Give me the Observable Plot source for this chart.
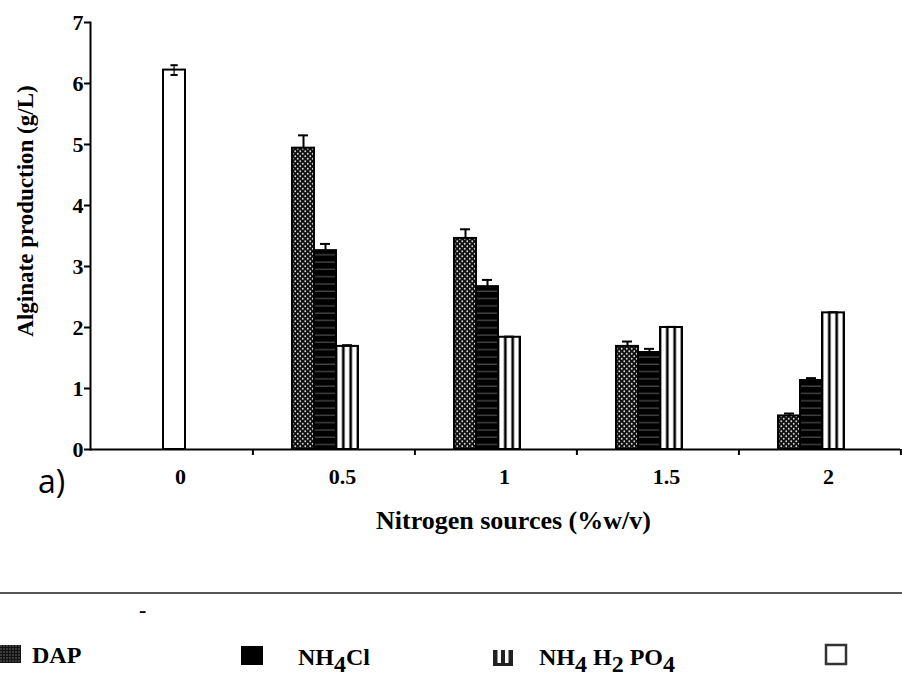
<!DOCTYPE html>
<html><head><meta charset="utf-8">
<script src="https://cdn.jsdelivr.net/npm/d3@7"></script>
<script src="https://cdn.jsdelivr.net/npm/@observablehq/plot@0.6"></script>
<style>
body{margin:0;background:#fff;}
#wrap{position:relative;width:902px;height:700px;background:#fff;}
#wrap > svg{position:absolute;left:0;top:0;}
</style></head><body><div id="wrap"></div>
<script>
// ---- data ----
const concentrations = ["0", "0.5", "1", "1.5", "2"];
const series = ["DAP", "NH4Cl", "NH4H2PO4"];
const seriesConc = ["0.5", "1", "1.5", "2"];
const dapValues = [4.94, 3.46, 1.69, 0.55];
const dapErrors = [0.21, 0.15, 0.08, 0.04];
const nh4clValues = [3.26, 2.67, 1.59, 1.13];
const nh4clErrors = [0.11, 0.11, 0.06, 0.04];
const nh4h2po4Values = [1.69, 1.84, 2.00, 2.24];
const nh4h2po4Errors = [0.02, 0.01, 0.01, 0.01];
const controlConc = ["0"];
const controlValues = [6.22];
const controlErrors = [0.08];
const yTicks = [0, 1, 2, 3, 4, 5, 6, 7];
const yTitle = "Alginate production (g/L)";
const xTitle = "Nitrogen sources (%w/v)";
const panelLabel = "a)";

const valueSets = [dapValues, nh4clValues, nh4h2po4Values];
const errorSets = [dapErrors, nh4clErrors, nh4h2po4Errors];
const rows = seriesConc.flatMap((c, i) => series.map((s, j) => ({conc: c, series: s, value: valueSets[j][i], err: errorSets[j][i]})));
const control = controlConc.map((c, i) => ({conc: c, value: controlValues[i], err: controlErrors[i]}));

const serif = "'Liberation Serif','Times New Roman',serif";

const svg = Plot.plot({
  width: 902, height: 560,
  marginLeft: 88, marginRight: 0, marginTop: 22, marginBottom: 111,
  style: {fontFamily: serif, background: "white", color: "black", overflow: "visible"},
  fx: {domain: concentrations, padding: 0},
  x: {domain: series, paddingInner: 0, paddingOuter: 2.039, align: 0.413, axis: null},
  y: {domain: [0, 7]},
  color: {domain: series, range: ["url(#pat-dap)", "url(#pat-nh4cl)", "url(#pat-po4)"]},
  marks: [
    Plot.ruleY([0], {strokeWidth: 2}),
    Plot.barY(rows, {fx: "conc", x: "series", y: "value", fill: "series", stroke: "black", strokeWidth: 2}),
    Plot.ruleX(rows, {fx: "conc", x: "series", y1: "value", y2: d => d.value + d.err, strokeWidth: 2}),
    Plot.tickY(rows, {fx: "conc", x: "series", y: d => d.value + d.err, insetLeft: 6, insetRight: 6, strokeWidth: 2}),
    Plot.barY(control, {fx: "conc", y: "value", fill: "white", stroke: "black", strokeWidth: 2, insetLeft: 73, insetRight: 67}),
    Plot.barY(control, {fx: "conc", y1: d => d.value - d.err, y2: d => d.value + d.err, fill: "black", insetLeft: 83.5, insetRight: 77.3}),
    Plot.tickY(control, {fx: "conc", y: d => d.value + d.err, insetLeft: 80.5, insetRight: 74.3, strokeWidth: 2}),
    Plot.tickY(control, {fx: "conc", y: d => d.value - d.err, insetLeft: 80.5, insetRight: 74.3, strokeWidth: 2}),
    Plot.frame({anchor: "left", facetAnchor: "left", strokeWidth: 2}),
    Plot.axisY({ticks: yTicks, tickFormat: d => String(d), tickSize: 6, tickPadding: 1, fontSize: 22, fontWeight: "bold", strokeWidth: 2, label: null}),
    Plot.axisFx({anchor: "bottom", tickSize: 0, tickPadding: 19, dx: 9, fontSize: 22, fontWeight: "bold", label: null}),
    Plot.axisFx({anchor: "bottom", tickSize: 6, tickFormat: () => "", dx: 81.4, strokeWidth: 2, label: null})
  ]
});

d3.select(svg).insert("defs", ":first-child").html(`
<pattern id="pat-dap" patternUnits="userSpaceOnUse" width="5" height="5">
  <rect width="5" height="5" fill="#111"/>
  <circle cx="1.25" cy="1.25" r="0.9" fill="#d8d8d8"/>
  <circle cx="3.75" cy="3.75" r="0.9" fill="#d8d8d8"/>
</pattern>
<pattern id="pat-nh4cl" patternUnits="userSpaceOnUse" width="8" height="7.3">
  <rect width="8" height="7.3" fill="#000"/>
  <rect y="6" width="8" height="1.1" fill="#555"/>
</pattern>
<pattern id="pat-po4" patternUnits="objectBoundingBox" patternContentUnits="objectBoundingBox" width="0.33333" height="1">
  <rect width="0.33333" height="1" fill="#fff"/>
  <rect x="0" width="0.06" height="1" fill="#000"/>
  <rect x="0.2733" width="0.06" height="1" fill="#000"/>
</pattern>
<pattern id="pat-dap-small" patternUnits="userSpaceOnUse" width="3" height="3">
  <rect width="3" height="3" fill="#111"/>
  <rect x="0.5" y="0.5" width="1" height="1" fill="#bbb"/>
</pattern>`);

const wrap = document.getElementById("wrap");
wrap.appendChild(svg);

// ---- overlay: titles, panel label, legend ----
const ov = d3.select(wrap).append("svg")
  .attr("width", 902).attr("height", 700)
  .style("pointer-events", "none")
  .attr("font-family", serif).attr("font-weight", "bold").attr("fill", "black");

ov.append("text").attr("transform", "translate(32.5,211) rotate(-90)")
  .attr("text-anchor", "middle").attr("font-size", 23).text(yTitle);
ov.append("text").attr("x", 376).attr("y", 529).attr("font-size", 26).text(xTitle);
ov.append("text").attr("x", 38).attr("y", 493).attr("font-size", 32)
  .attr("font-weight", "normal").attr("font-family", "'Open Sans','Noto Sans',sans-serif").text(panelLabel);

// legend separator
ov.append("line").attr("x1", 0).attr("x2", 902).attr("y1", 593).attr("y2", 593)
  .attr("stroke", "#555").attr("stroke-width", 2);
ov.append("text").attr("x", 139).attr("y", 617).attr("font-size", 22).text("-");

// legend swatches
ov.append("rect").attr("x", 0).attr("y", 645).attr("width", 21).attr("height", 18).attr("fill", "url(#pat-dap-small)");
ov.append("rect").attr("x", 241).attr("y", 646).attr("width", 22).attr("height", 19).attr("fill", "#000");
const sh = ov.append("g").attr("transform", "translate(493,650)");
sh.append("rect").attr("width", 20).attr("height", 16).attr("fill", "#222");
sh.append("rect").attr("x", 4.5).attr("y", 0).attr("width", 3.5).attr("height", 13).attr("fill", "#fff");
sh.append("rect").attr("x", 12).attr("y", 0).attr("width", 3.5).attr("height", 13).attr("fill", "#fff");
ov.append("rect").attr("x", 826).attr("y", 645).attr("width", 20).attr("height", 19)
  .attr("fill", "none").attr("stroke", "#333").attr("stroke-width", 2.5);

// legend labels
ov.append("text").attr("x", 32).attr("y", 663).attr("font-size", 24).text("DAP");
const t2 = ov.append("text").attr("x", 298).attr("y", 665).attr("font-size", 24);
t2.append("tspan").text("NH");
t2.append("tspan").attr("dy", 7).attr("font-size", 24).text("4");
t2.append("tspan").attr("dy", -7).text("Cl");
const t3 = ov.append("text").attr("x", 539).attr("y", 665).attr("font-size", 24);
t3.append("tspan").text("NH");
t3.append("tspan").attr("dy", 7).attr("font-size", 24).text("4");
t3.append("tspan").attr("dy", -7).text(" H");
t3.append("tspan").attr("dy", 7).attr("font-size", 24).text("2");
t3.append("tspan").attr("dy", -7).text(" PO");
t3.append("tspan").attr("dy", 7).attr("font-size", 24).text("4");
</script></body></html>
